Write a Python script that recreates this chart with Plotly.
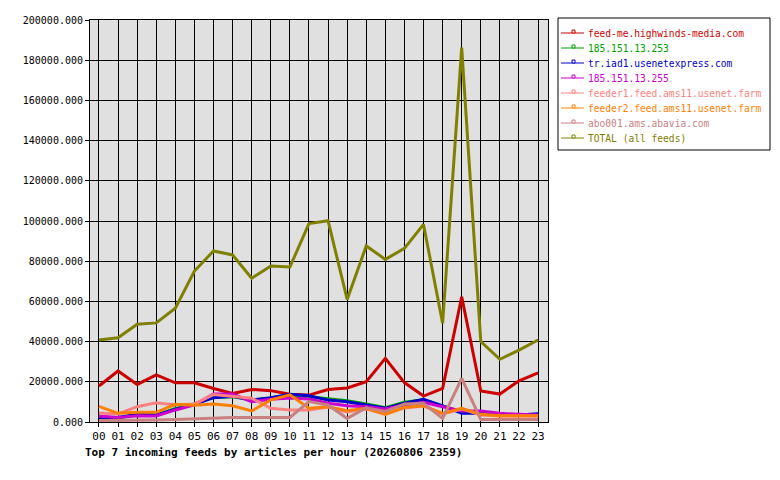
import plotly.graph_objects as go

hours = ["%02d" % h for h in range(24)]

feed_me = [17900, 25400, 18700, 23400, 19500, 19500, 16700, 14200, 16200, 15600, 13800, 13400,
           16200, 16900, 20000, 31700, 19600, 12900, 16700, 62300, 15400, 13900, 20500, 24500]
ip_253 = [2300, 2000, 3600, 3300, 6800, 9000, 12300, 12500, 11000, 12000, 13600, 12600,
          11300, 10600, 9000, 7100, 9800, 11000, 8000, 5000, 4500, 3500, 3500, 3500]
tr_iad1 = [2300, 2300, 3800, 3500, 6300, 8800, 12100, 12800, 10900, 12100, 13800, 13100,
           10900, 10100, 8500, 6800, 9300, 11300, 8000, 4300, 4500, 3500, 3500, 4100]
ip_255 = [3000, 2300, 3100, 3000, 6000, 8500, 13900, 13900, 10100, 11300, 12000, 11400,
          9300, 8100, 7600, 6500, 8500, 9800, 7600, 5500, 5500, 4300, 3800, 3500]
feeder1 = [4500, 4000, 7600, 9600, 8500, 9000, 13700, 12600, 11800, 6800, 6000, 6000,
           7500, 5000, 6500, 4000, 7000, 8000, 4000, 6500, 3500, 3000, 3000, 3000]
feeder2 = [7800, 4300, 4800, 4800, 8800, 8300, 9000, 8100, 5500, 11000, 13500, 6800,
           7600, 5600, 6800, 3800, 7300, 8100, 4300, 6800, 3800, 3100, 3100, 3100]
abo001 = [700, 700, 800, 1000, 1300, 1700, 2000, 2300, 2200, 2300, 2300, 10200,
          8500, 1800, 7100, 5300, 9000, 9300, 1800, 21700, 1300, 1300, 1200, 1200]
total = [40800, 41900, 48600, 49300, 56600, 75100, 85100, 83100, 71500, 77600, 77100, 98700,
         100100, 61000, 87600, 80900, 86400, 98300, 49100, 186300, 40000, 31200, 35800, 40800]

names = ["feed-me.highwinds-media.com", "185.151.13.253", "tr.iad1.usenetexpress.com",
         "185.151.13.255", "feeder1.feed.ams11.usenet.farm", "feeder2.feed.ams11.usenet.farm",
         "abo001.ams.abavia.com", "TOTAL (all feeds)"]
series = [feed_me, ip_253, tr_iad1, ip_255, feeder1, feeder2, abo001, total]
colors = ["#cc0000", "#00a000", "#0000cc", "#cc00cc", "#ff8080", "#ff8000", "#c88080", "#808000"]

FONT = "DejaVu Sans Mono"

# the page body has an 8px margin, so the figure is a bit smaller than the window
OFF = 8
W, H = 764, 464
# plot area as seen on screen
PL, PR, PT, PB = 90, 548, 20, 422
def px(x): return (x - PL) / (PR - PL)
def py(y): return (PB - y) / (PB - PT)

fig = go.Figure()

for name, vals, col in zip(names, series, colors):
    fig.add_trace(go.Scatter(
        x=hours, y=vals, mode="lines", name=name,
        line=dict(color=col, width=3),
        showlegend=False,
    ))

fig.update_xaxes(
    type="category",
    range=[-0.47, 23.52],
    showgrid=True, gridcolor="black", gridwidth=1,
    showline=True, linecolor="black", linewidth=1, mirror=True,
    ticks="outside", ticklen=4, tickcolor="black",
    tickfont=dict(family=FONT, size=11, color="black"),
    fixedrange=True,
)
fig.update_yaxes(
    range=[0, 200000], dtick=20000,
    tickformat=".3f",
    showgrid=True, gridcolor="black", gridwidth=1,
    zeroline=False,
    showline=True, linecolor="black", linewidth=1, mirror=True,
    ticks="outside", ticklen=4, tickcolor="black",
    tickfont=dict(family=FONT, size=10, color="black"),
    fixedrange=True,
)

fig.update_layout(
    width=W, height=H,
    margin=dict(l=PL - OFF, r=W - (PR - OFF), t=PT - OFF, b=H - (PB - OFF),
                pad=0, autoexpand=False),
    paper_bgcolor="white",
    plot_bgcolor="#e0e0e0",
    font=dict(family=FONT, size=10, color="black"),
    showlegend=False,
)

# hand-drawn legend box -------------------------------------------------------
fig.add_shape(type="rect", xref="paper", yref="paper",
              x0=px(558), x1=px(770), y0=py(150), y1=py(18),
              line=dict(color="black", width=1), fillcolor="white", layer="above")
for i, (name, col) in enumerate(zip(names, colors)):
    yy = 33 + 15 * i
    fig.add_shape(type="line", xref="paper", yref="paper",
                  x0=px(561), x1=px(584), y0=py(yy), y1=py(yy),
                  line=dict(color=col, width=1), layer="above")
    fig.add_shape(type="rect", xref="paper", yref="paper",
                  x0=px(572), x1=px(575), y0=py(yy), y1=py(yy - 3),
                  line=dict(color=col, width=1), fillcolor="white", layer="above")
    fig.add_annotation(text=name, x=px(586), y=py(yy), xref="paper", yref="paper",
                       xanchor="left", yanchor="middle", showarrow=False,
                       font=dict(family=FONT, size=9.6, color=col))

fig.add_annotation(
    text="<b>Top 7 incoming feeds by articles per hour (20260806 2359)</b>",
    x=px(83), y=py(452), xref="paper", yref="paper", xanchor="left", yanchor="middle",
    showarrow=False,
    font=dict(family=FONT, size=11, color="black"),
)

fig.write_html("out.html")
